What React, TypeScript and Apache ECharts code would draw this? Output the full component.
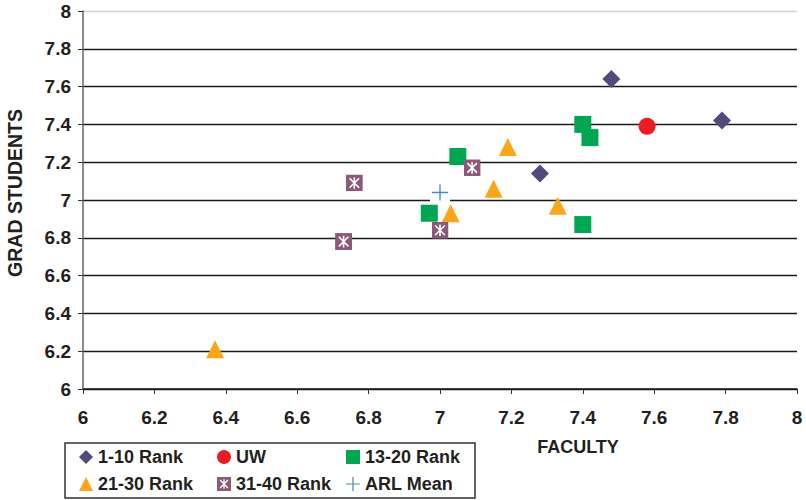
import React, { useEffect, useRef } from "react";
import * as echarts from "echarts";

const FONT = "'Liberation Sans', Arial, Helvetica, sans-serif";

const xTicks = [6, 6.2, 6.4, 6.6, 6.8, 7, 7.2, 7.4, 7.6, 7.8, 8];
const yTicks = [6, 6.2, 6.4, 6.6, 6.8, 7, 7.2, 7.4, 7.6, 7.8, 8];

const rank1to10: [number, number][] = [
  [7.48, 7.64],
  [7.79, 7.42],
  [7.28, 7.14],
];
const uw: [number, number][] = [[7.58, 7.39]];
const rank13to20: [number, number][] = [
  [7.4, 7.4],
  [7.42, 7.33],
  [7.05, 7.23],
  [6.97, 6.93],
  [7.4, 6.87],
];
const rank21to30: [number, number][] = [
  [7.19, 7.28],
  [7.15, 7.06],
  [7.03, 6.93],
  [7.33, 6.97],
  [6.37, 6.21],
];
const rank31to40: [number, number][] = [
  [6.76, 7.09],
  [7.09, 7.17],
  [7.0, 6.84],
  [6.73, 6.78],
];
const arlMean: [number, number][] = [[7.0, 7.04]];

const C_DIAMOND = "#4F4B7B";
const C_RED = "#ED1C24";
const C_GREEN = "#00A651";
const C_ORANGE = "#F9A61A";
const C_PURPLE = "#8C5A78";
const C_PLUS = "#4B8DB0";

const svgUrl = (svg: string) =>
  "image://data:image/svg+xml;charset=utf-8," + encodeURIComponent(svg);

const asteriskSquare = svgUrl(
  `<svg xmlns='http://www.w3.org/2000/svg' width='32' height='32' viewBox='0 0 16 16'><rect width='16' height='16' fill='${C_PURPLE}'/><path d='M3.5,3.5L12.5,12.5M12.5,3.5L3.5,12.5M8,2.5L8,13.5' stroke='#ffffff' stroke-width='1.5' fill='none'/></svg>`
);
const plusSym = svgUrl(
  `<svg xmlns='http://www.w3.org/2000/svg' width='40' height='40' viewBox='0 0 20 20'><rect width='20' height='20' fill='#ffffff'/><path d='M10,2V18M2,10H18' stroke='${C_PLUS}' stroke-width='1.4' fill='none'/></svg>`
);
const plusLegend = svgUrl(
  `<svg xmlns='http://www.w3.org/2000/svg' width='32' height='32' viewBox='0 0 16 16'><path d='M8,0V16M0,8H16' stroke='${C_PLUS}' stroke-width='1.4' fill='none'/></svg>`
);

const fmt = (v: number) => String(+v.toFixed(1));

export default function App() {
  const ref = useRef<HTMLDivElement>(null);
  useEffect(() => {
    document.body.style.margin = "0";
    if (!ref.current) return;
    const chart = echarts.init(ref.current, null, { renderer: "svg" });
    const tickText = {
      fontFamily: FONT,
      fontWeight: "bold" as const,
      fontSize: 19,
      color: "#231F20",
    };
    const splitColors = yTicks.map((_, i) =>
      i === yTicks.length - 1 ? "#cfcfcf" : "#1a1a1a"
    );
    const legendBase = {
      orient: "vertical" as const,
      itemWidth: 14,
      itemHeight: 14,
      itemGap: 7,
      height: 70,
      padding: 0,
      textStyle: {
        fontFamily: FONT,
        fontWeight: "bold" as const,
        fontSize: 18,
        lineHeight: 20,
        color: "#231F20",
      },
      selectedMode: false,
      top: 447,
    };
    chart.setOption({
      animation: false,
      grid: { left: 83, right: 9, top: 11, bottom: 111, containLabel: false },
      xAxis: {
        type: "value",
        min: xTicks[0],
        max: xTicks[xTicks.length - 1],
        interval: 0.2,
        axisLine: { show: true, onZero: false, lineStyle: { color: "#1a1a1a", width: 1.5 } },
        axisTick: { show: true, length: 5, lineStyle: { color: "#333" } },
        axisLabel: { ...tickText, margin: 19, formatter: fmt },
        splitLine: { show: false },
      },
      yAxis: {
        type: "value",
        min: yTicks[0],
        max: yTicks[yTicks.length - 1],
        interval: 0.2,
        axisLine: { show: true, onZero: false, lineStyle: { color: "#666", width: 1.5 } },
        axisTick: { show: true, length: 5, lineStyle: { color: "#333" } },
        axisLabel: { ...tickText, margin: 12, formatter: fmt },
        splitLine: { show: true, lineStyle: { color: splitColors, width: 1.3 } },
      },
      legend: [
        {
          ...legendBase,
          left: 79,
          data: [
            { name: "1-10 Rank", icon: "diamond" },
            { name: "21-30 Rank", icon: "triangle" },
          ],
        },
        {
          ...legendBase,
          left: 217,
          data: [
            { name: "UW", icon: "circle" },
            { name: "31-40 Rank", icon: asteriskSquare },
          ],
        },
        {
          ...legendBase,
          left: 346,
          data: [
            { name: "13-20 Rank", icon: "rect" },
            { name: "ARL Mean", icon: plusLegend },
          ],
        },
      ],
      graphic: [
        {
          type: "rect",
          shape: { x: 65, y: 443, width: 410, height: 55 },
          style: { fill: "none", stroke: "#333", lineWidth: 1.5 },
          silent: true,
        },
        {
          type: "text",
          x: 15,
          y: 193,
          rotation: Math.PI / 2,
          style: {
            text: "GRAD STUDENTS",
            font: `bold 19.5px ${FONT}`,
            fill: "#231F20",
            align: "center",
            verticalAlign: "middle",
          },
        },
        {
          type: "text",
          x: 578,
          y: 447,
          style: {
            text: "FACULTY",
            font: `bold 18px ${FONT}`,
            fill: "#231F20",
            align: "center",
            verticalAlign: "middle",
          },
        },
      ],
      series: [
        {
          name: "1-10 Rank",
          type: "scatter",
          data: rank1to10,
          symbol: "diamond",
          symbolSize: 18,
          itemStyle: { color: C_DIAMOND, opacity: 1 },
        },
        {
          name: "UW",
          type: "scatter",
          data: uw,
          symbol: "circle",
          symbolSize: 17,
          itemStyle: { color: C_RED, opacity: 1 },
        },
        {
          name: "13-20 Rank",
          type: "scatter",
          data: rank13to20,
          symbol: "rect",
          symbolSize: 17,
          itemStyle: { color: C_GREEN, opacity: 1 },
        },
        {
          name: "21-30 Rank",
          type: "scatter",
          data: rank21to30,
          symbol: "triangle",
          symbolSize: 18,
          itemStyle: { color: C_ORANGE, opacity: 1 },
        },
        {
          name: "31-40 Rank",
          type: "scatter",
          data: rank31to40,
          symbol: asteriskSquare,
          symbolSize: 17,
          itemStyle: { color: C_PURPLE, opacity: 1 },
        },
        {
          name: "ARL Mean",
          type: "scatter",
          data: arlMean,
          symbol: plusSym,
          symbolSize: 20,
          itemStyle: { color: C_PLUS, opacity: 1 },
        },
      ],
    });
    return () => chart.dispose();
  }, []);
  return <div ref={ref} style={{ width: 806, height: 500 }} />;
}
